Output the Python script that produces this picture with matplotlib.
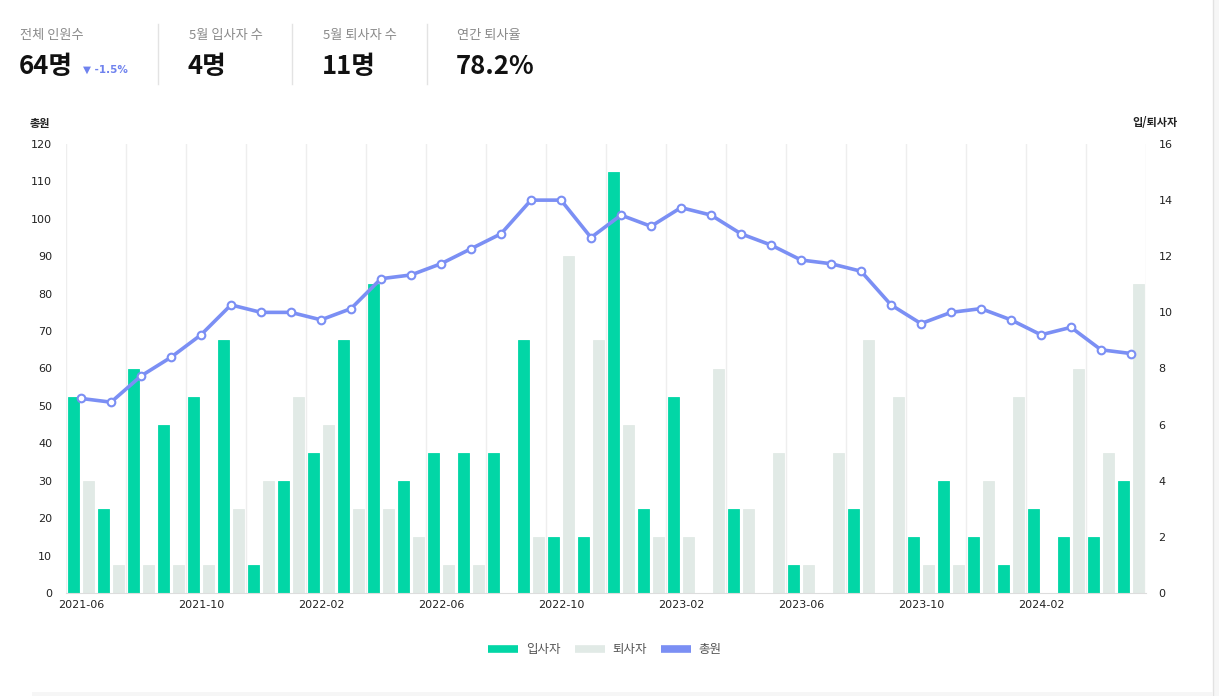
import matplotlib
matplotlib.use("Agg")
import matplotlib.pyplot as plt
from matplotlib.lines import Line2D
from matplotlib.patches import Rectangle
import numpy as np

plt.rcParams['font.family'] = ['Noto Sans CJK KR', 'DejaVu Sans']

# ---------------- data ----------------
months = ["2021-06", "2021-07", "2021-08", "2021-09", "2021-10", "2021-11", "2021-12",
          "2022-01", "2022-02", "2022-03", "2022-04", "2022-05", "2022-06", "2022-07",
          "2022-08", "2022-09", "2022-10", "2022-11", "2022-12", "2023-01", "2023-02",
          "2023-03", "2023-04", "2023-05", "2023-06", "2023-07", "2023-08", "2023-09",
          "2023-10", "2023-11", "2023-12", "2024-01", "2024-02", "2024-03", "2024-04",
          "2024-05"]
hires = [7, 3, 8, 6, 7, 9, 1, 4, 5, 9, 11, 4, 5, 5, 5, 9, 2, 2, 15, 3, 7, 0, 3, 0,
         1, 0, 3, 0, 2, 4, 2, 1, 3, 2, 2, 4]
leaves = [4, 1, 1, 1, 1, 3, 4, 7, 6, 3, 3, 2, 1, 1, 0, 2, 12, 9, 6, 2, 2, 8, 3, 5,
          1, 5, 9, 7, 1, 1, 4, 7, 0, 8, 5, 11]
total = [52, 51, 58, 63, 69, 77, 75, 75, 73, 76, 84, 85, 88, 92, 96, 105, 105, 95, 101,
         98, 103, 101, 96, 93, 89, 88, 86, 77, 72, 75, 76, 73, 69, 71, 65, 64]

kpi_labels = ["전체 인원수", "5월 입사자 수", "5월 퇴사자 수", "연간 퇴사율"]
kpi_values = ["64명", "4명", "11명", "78.2%"]
kpi_delta = "▼ -1.5%"

series_names = ["입사자", "퇴사자", "총원"]
left_ticks = [0, 10, 20, 30, 40, 50, 60, 70, 80, 90, 100, 110, 120]
right_ticks = [0, 2, 4, 6, 8, 10, 12, 14, 16]

GREEN = "#02d6a6"
GRAY = "#e1eae6"
BLUE = "#7b8ff4"

W, H = 1219, 696
fig = plt.figure(figsize=(W / 100, H / 100), dpi=100)
fig.patch.set_facecolor("white")

def fx(px):
    return px / W

def fy(py):
    return 1 - py / H

# page edges (background decoration)
fig.add_artist(Rectangle((fx(1213), 0), 1 - fx(1213), 1, facecolor="#f6f6f6",
                         edgecolor="none", zorder=0))
fig.add_artist(Line2D([fx(1213), fx(1213)], [0, 1], color="#e2e2e2", lw=1, zorder=0))
fig.add_artist(Rectangle((fx(32), 0), fx(1213) - fx(32), fy(692), facecolor="#f6f6f6",
                         edgecolor="none", zorder=0))

# ---------------- KPI header ----------------
kpi_x = [20, 189, 323, 457]
for i, (lab, val) in enumerate(zip(kpi_labels, kpi_values)):
    fig.text(fx(kpi_x[i]), fy(35), lab, fontsize=9.5, color="#8a8a8a",
             ha="left", va="center")
    fig.text(fx(kpi_x[i] - 1), fy(66), val, fontsize=18.5, fontweight="bold",
             color="#111111", ha="left", va="center")
fig.text(fx(83), fy(70), kpi_delta, fontsize=7.5, fontweight="bold", color="#6f82ee",
         ha="left", va="center", family=['DejaVu Sans'])
for dx in [158, 292, 427]:
    fig.add_artist(Line2D([fx(dx), fx(dx)], [fy(24), fy(84)], color="#e3e3e3", lw=1))

# ---------------- axes ----------------
ax = fig.add_axes([fx(66), fy(593), fx(1146) - fx(66), fy(144) - fy(593)])
ax2 = ax.twinx()

x = np.arange(len(months))
bw = 0.35
ax.bar(x - 0.245, hires, width=bw, color=GREEN, edgecolor=GREEN, linewidth=0.6, zorder=2)
ax.bar(x + 0.245, leaves, width=bw, color=GRAY, edgecolor=GRAY, linewidth=0.6, zorder=2)
ax.set_ylim(0, 16)
ax.set_xlim(-0.5, len(months) - 0.5)
ax.yaxis.tick_right()
ax.set_yticks(right_ticks)
ax.set_xticks(x[::4])
ax.set_xticklabels(months[::4])
ax.set_xticks(np.arange(-0.5, len(months), 2), minor=True)
ax.grid(True, which="minor", axis="x", color="#eeeeee", lw=1, zorder=0)
ax.grid(False, which="major")
ax.tick_params(axis="x", which="both", length=0, pad=5, labelsize=8, labelcolor="#222222")
ax.tick_params(axis="y", length=0, pad=9, labelsize=8, labelcolor="#222222")
for lbl in ax.get_xticklabels() + ax.get_yticklabels():
    lbl.set_family(['DejaVu Sans'])
for s in ["top", "left", "right"]:
    ax.spines[s].set_visible(False)
ax.spines["bottom"].set_color("#dddddd")
ax.set_axisbelow(True)

ax2.plot(x, total, color=BLUE, lw=2.6, marker="o", markersize=5.5,
         markerfacecolor="white", markeredgecolor=BLUE, markeredgewidth=1.5, zorder=5)
ax2.set_ylim(0, 120)
ax2.yaxis.tick_left()
ax2.set_yticks(left_ticks)
ax2.tick_params(axis="y", length=0, pad=10, labelsize=8, labelcolor="#222222")
for lbl in ax2.get_yticklabels():
    lbl.set_family(['DejaVu Sans'])
for s in ["top", "left", "right", "bottom"]:
    ax2.spines[s].set_visible(False)

fig.text(fx(40), fy(123), "총원", fontsize=8, fontweight="bold", color="#222222",
         ha="center", va="center")
fig.text(fx(1155), fy(123), "입/퇴사자", fontsize=8, fontweight="bold", color="#222222",
         ha="center", va="center")

# ---------------- legend ----------------
handles = [Line2D([0], [0], color=GREEN, lw=5.5, solid_capstyle="butt"),
           Line2D([0], [0], color=GRAY, lw=5.5, solid_capstyle="butt"),
           Line2D([0], [0], color=BLUE, lw=5.5, solid_capstyle="butt")]
leg = fig.legend(handles, series_names, loc="center", bbox_to_anchor=(fx(605), fy(650)),
                 ncol=3, frameon=False, fontsize=9, handlelength=2.4, handletextpad=0.6,
                 columnspacing=1.15, labelcolor="#555555")

fig.savefig("out.png", dpi=100, facecolor="white")
